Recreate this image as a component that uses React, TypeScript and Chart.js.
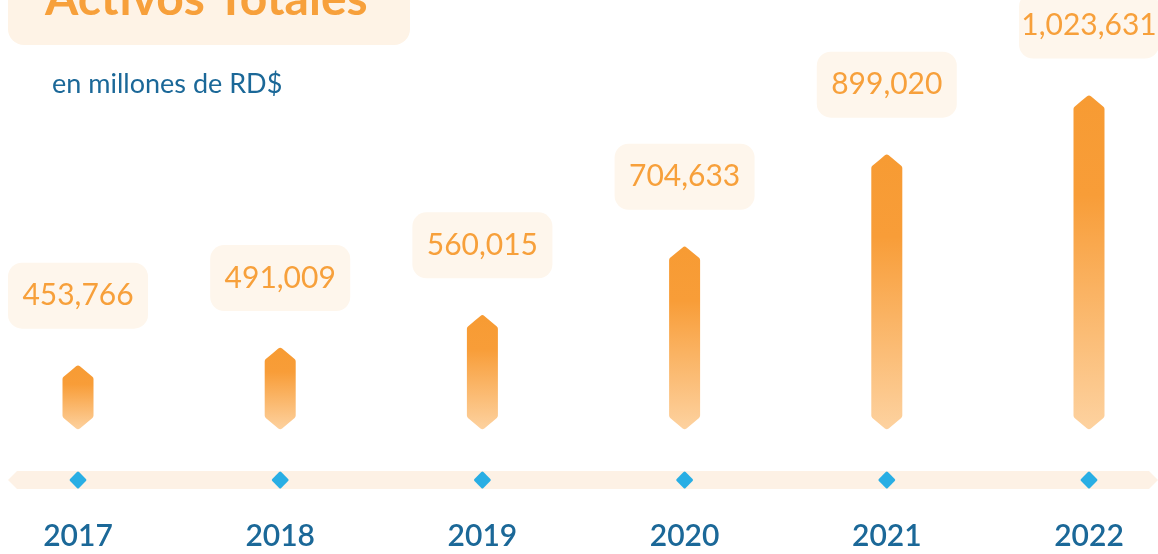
import React, { useEffect, useRef } from 'react';
import { Chart, registerables } from 'chart.js';

Chart.register(...registerables);

const years = ['2017', '2018', '2019', '2020', '2021', '2022'];
const totalAssets = [453766, 491009, 560015, 704633, 899020, 1023631];
const valueLabels = ['453,766', '491,009', '560,015', '704,633', '899,020', '1,023,631'];
const titleText = 'Activos Totales';
const subtitleText = 'en millones de RD$';
const yAxisMin = 315800;
const yAxisMax = 1117800;

const ORANGE = '#F79B33';
const LIGHT_ORANGE = '#FDD2A0';
const BOX_BG = '#FEF6EC';
const TRACK_BG = '#FDF1E5';
const BLUE = '#29AEE4';
const DARK_BLUE = '#1B6898';

function roundRect(ctx: CanvasRenderingContext2D, x: number, y: number, w: number, h: number, r: number) {
  ctx.beginPath();
  ctx.moveTo(x + r, y);
  ctx.lineTo(x + w - r, y);
  ctx.arcTo(x + w, y, x + w, y + r, r);
  ctx.lineTo(x + w, y + h - r);
  ctx.arcTo(x + w, y + h, x + w - r, y + h, r);
  ctx.lineTo(x + r, y + h);
  ctx.arcTo(x, y + h, x, y + h - r, r);
  ctx.lineTo(x, y + r);
  ctx.arcTo(x, y, x + r, y, r);
  ctx.closePath();
}

function roundedPoly(ctx: CanvasRenderingContext2D, pts: [number, number][], r: number) {
  const n = pts.length;
  ctx.beginPath();
  const a = pts[n - 1];
  const b = pts[0];
  ctx.moveTo((a[0] + b[0]) / 2, (a[1] + b[1]) / 2);
  for (let i = 0; i < n; i++) {
    const p = pts[i];
    const nx = pts[(i + 1) % n];
    ctx.arcTo(p[0], p[1], nx[0], nx[1], r);
  }
  ctx.closePath();
}

const decorPlugin = {
  id: 'decor',
  beforeDatasetsDraw(chart: any) {
    const ctx: CanvasRenderingContext2D = chart.ctx;
    ctx.save();
    // Title box
    roundRect(ctx, 8, -30, 402, 75, 16);
    ctx.fillStyle = '#FEF3E6';
    ctx.fill();
    ctx.fillStyle = '#F7A03B';
    ctx.font = 'bold 48px Lato';
    ctx.textAlign = 'left';
    ctx.textBaseline = 'alphabetic';
    ctx.fillText(titleText, 45, 15);
    // Subtitle
    ctx.fillStyle = DARK_BLUE;
    ctx.font = '27px Lato';
    ctx.textBaseline = 'middle';
    ctx.fillText(subtitleText, 52, 84);

    // Track
    const ty = 480;
    ctx.beginPath();
    ctx.moveTo(8, ty);
    ctx.lineTo(17, ty - 9);
    ctx.lineTo(1149, ty - 9);
    ctx.lineTo(1158, ty);
    ctx.lineTo(1149, ty + 9);
    ctx.lineTo(17, ty + 9);
    ctx.closePath();
    ctx.fillStyle = TRACK_BG;
    ctx.fill();

    const xs = chart.scales.x;
    years.forEach((yr, i) => {
      const cx = xs.getPixelForValue(i);
      roundedPoly(ctx, [[cx, ty - 9], [cx + 9, ty], [cx, ty + 9], [cx - 9, ty]], 1.5);
      ctx.fillStyle = BLUE;
      ctx.fill();
      ctx.fillStyle = DARK_BLUE;
      ctx.font = '600 30px Lato';
      ctx.textAlign = 'center';
      ctx.textBaseline = 'middle';
      ctx.fillText(yr, cx, 536);
    });
    ctx.restore();
  },
  afterDatasetsDraw(chart: any) {
    const ctx: CanvasRenderingContext2D = chart.ctx;
    const meta = chart.getDatasetMeta(0);
    const basePx = chart.scales.y.getPixelForValue(yAxisMin);
    ctx.save();
    meta.data.forEach((bar: any, i: number) => {
      const { x, y, width } = bar.getProps(['x', 'y', 'width'], true);
      const base = basePx;
      const hw = width / 2;
      const ch = Math.min(13, (base - y) / 2.5);
      const grad = ctx.createLinearGradient(0, y, 0, base);
      grad.addColorStop(0, ORANGE);
      grad.addColorStop(0.3, '#F89D38');
      grad.addColorStop(1, LIGHT_ORANGE);
      roundedPoly(
        ctx,
        [
          [x, y],
          [x + hw, y + ch],
          [x + hw, base - ch],
          [x, base],
          [x - hw, base - ch],
          [x - hw, y + ch],
        ],
        3
      );
      ctx.fillStyle = grad;
      ctx.fill();

      const bw = 140;
      const bh = 66;
      const by = y - 36 - bh;
      roundRect(ctx, x - bw / 2, by, bw, bh, 14);
      ctx.fillStyle = BOX_BG;
      ctx.fill();
      ctx.fillStyle = '#F7A03B';
      ctx.font = '30px Lato';
      ctx.textAlign = 'center';
      ctx.textBaseline = 'middle';
      ctx.fillText(valueLabels[i], x, by + bh / 2);
    });
    ctx.restore();
  },
};

export default function App() {
  const ref = useRef<HTMLCanvasElement | null>(null);
  useEffect(() => {
    if (!ref.current) return;
    const chart = new Chart(ref.current, {
      type: 'bar',
      data: {
        labels: years,
        datasets: [
          {
            label: 'Activos Totales',
            data: totalAssets,
            base: yAxisMin,
            backgroundColor: 'rgba(0,0,0,0)',
            borderWidth: 0,
            barThickness: 31,
          },
        ],
      },
      options: {
        animation: false,
        responsive: false,
        layout: { padding: { left: 78, right: 69, top: 50, bottom: 124 } },
        plugins: {
          legend: { display: false },
          tooltip: { enabled: false },
          title: { display: false },
        },
        scales: {
          x: {
            display: false,
            offset: false,
          },
          y: {
            display: false,
            min: yAxisMin,
            max: yAxisMax,
          },
        },
      },
      plugins: [decorPlugin],
    });
    return () => chart.destroy();
  }, []);
  return (
    <div style={{ position: 'absolute', left: 0, top: 0, width: 1158, height: 554 }}>
      <canvas ref={ref} width={1158} height={554} style={{ display: 'block' }} />
    </div>
  );
}
